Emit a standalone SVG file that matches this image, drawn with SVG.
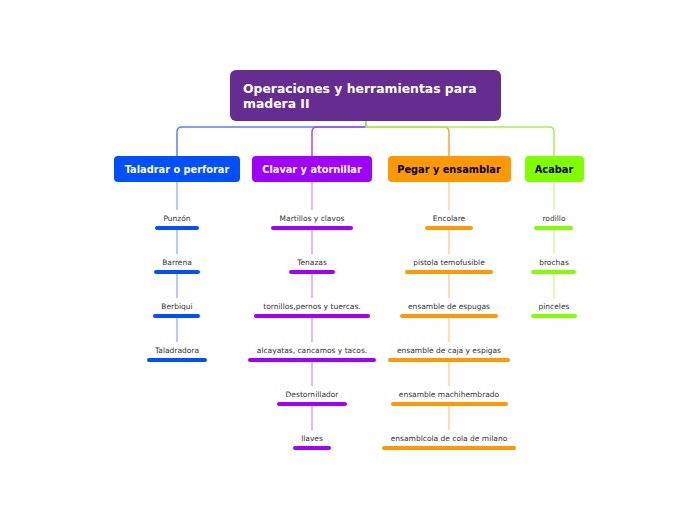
<svg xmlns="http://www.w3.org/2000/svg" width="697" height="520" viewBox="0 0 697 520">
<style>
.root{font-family:"DejaVu Sans",Verdana,sans-serif;font-weight:bold;font-size:12.4px;fill:#fff}
.mt{font-family:"DejaVu Sans",Verdana,sans-serif;font-weight:bold;font-size:9.8px;text-anchor:middle}
.ct{font-family:"DejaVu Sans",Verdana,sans-serif;font-size:7.5px;fill:#333;text-anchor:middle}
.ul{stroke-width:4;stroke-linecap:round;fill:none}
.c{fill:none;stroke-width:1.5}
.v{fill:none;stroke-width:1.5}
.blue{stroke:#0050FF}.purple{stroke:#A000FF}.orange{stroke:#FF9900}.green{stroke:#80FF00}
.lblue{stroke:#9DB9FF}.lpurple{stroke:#DCA3FF}.lorange{stroke:#FFD49B}.lgreen{stroke:#CCFF99}
</style>
<rect width="697" height="520" fill="#fff"/>
<g id="connectors">
<path class="c" stroke="#5A7FFF" d="M366 121V127H182Q177 127 177 132V156"/>
<path class="c" stroke="#A34CFF" d="M366 127H317Q312 127 312 132V156"/>
<path class="c" stroke="#FFA23A" d="M366 127H444Q449 127 449 132V156"/>
<path class="c" stroke="#A6F050" d="M366 121V127H549Q554 127 554 132V156"/>
<g class="v lblue"><path d="M177 182V210M177 230V254M177 274V298M177 318V342"/></g>
<g class="v lpurple"><path d="M312 182V210M312 230V254M312 274V298M312 318V342M312 362V386M312 406V430"/></g>
<g class="v lorange"><path d="M449 182V210M449 230V254M449 274V298M449 318V342M449 362V386M449 406V430"/></g>
<g class="v lgreen"><path d="M554 182V210M554 230V254M554 274V298"/></g>
</g>
<g id="root">
<rect x="230" y="70" width="271" height="51" rx="6" fill="#662D91"/>
<text class="root" x="243" y="93">Operaciones y herramientas para</text>
<text class="root" x="243" y="108">madera II</text>
</g>
<g id="taladrar">
<rect x="114" y="156" width="126" height="26" rx="4" fill="#0050FF"/>
<text class="mt" x="177" y="173" fill="#fff">Taladrar o perforar</text>
</g>
<g id="clavar">
<rect x="252" y="156" width="120" height="26" rx="4" fill="#A000FF"/>
<text class="mt" x="312" y="173" fill="#fff">Clavar y atornillar</text>
</g>
<g id="pegar">
<rect x="388" y="156" width="123" height="26" rx="4" fill="#FF9900"/>
<text class="mt" x="449" y="173" fill="#000">Pegar y ensamblar</text>
</g>
<g id="acabar">
<rect x="525" y="156" width="59" height="26" rx="4" fill="#80FF00"/>
<text class="mt" x="554" y="173" fill="#000">Acabar</text>
</g>
<g id="punzon"><text class="ct" x="177" y="221">Punzón</text><path class="ul blue" d="M157 228H197"/></g>
<g id="barrena"><text class="ct" x="177" y="265">Barrena</text><path class="ul blue" d="M156 272H198"/></g>
<g id="berbiqui"><text class="ct" x="177" y="309">Berbiqui</text><path class="ul blue" d="M155 316H198"/></g>
<g id="taladradora"><text class="ct" x="177" y="353">Taladradora</text><path class="ul blue" d="M149 360H205"/></g>
<g id="martillos"><text class="ct" x="312" y="221">Martillos y clavos</text><path class="ul purple" d="M273 228H351"/></g>
<g id="tenazas"><text class="ct" x="312" y="265">Tenazas</text><path class="ul purple" d="M291 272H333"/></g>
<g id="tornillos"><text class="ct" x="312" y="309">tornillos,pernos y tuercas.</text><path class="ul purple" d="M256 316H368"/></g>
<g id="alcayatas"><text class="ct" x="312" y="353">alcayatas, cancamos y tacos.</text><path class="ul purple" d="M250 360H374"/></g>
<g id="destornillador"><text class="ct" x="312" y="397">Destornillador</text><path class="ul purple" d="M279 404H345"/></g>
<g id="llaves"><text class="ct" x="312" y="441">llaves</text><path class="ul purple" d="M295 448H329"/></g>
<g id="encolare"><text class="ct" x="449" y="221">Encolare</text><path class="ul orange" d="M427 228H471"/></g>
<g id="pistola"><text class="ct" x="449" y="265">pistola temofusible</text><path class="ul orange" d="M407 272H491"/></g>
<g id="espugas"><text class="ct" x="449" y="309">ensamble de espugas</text><path class="ul orange" d="M402 316H496"/></g>
<g id="caja"><text class="ct" x="449" y="353">ensamble de caja y espigas</text><path class="ul orange" d="M390 360H508"/></g>
<g id="machihembrado"><text class="ct" x="449" y="397">ensamble machihembrado</text><path class="ul orange" d="M393 404H506"/></g>
<g id="milano"><text class="ct" x="449" y="441">ensamblcola de cola de milano</text><path class="ul orange" d="M384 448H514"/></g>
<g id="rodillo"><text class="ct" x="554" y="221">rodillo</text><path class="ul green" d="M536 228H571"/></g>
<g id="brochas"><text class="ct" x="554" y="265">brochas</text><path class="ul green" d="M533 272H574"/></g>
<g id="pinceles"><text class="ct" x="554" y="309">pinceles</text><path class="ul green" d="M533 316H575"/></g>
</svg>
